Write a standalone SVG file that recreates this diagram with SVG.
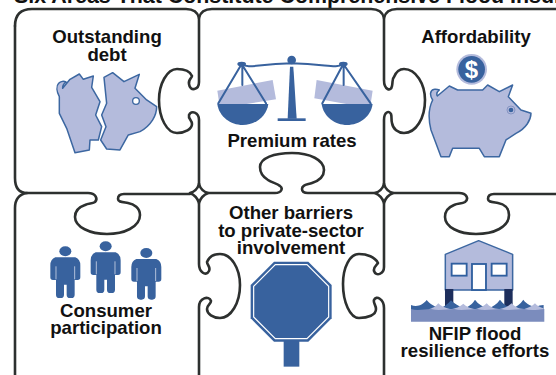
<svg xmlns="http://www.w3.org/2000/svg" width="556" height="375" viewBox="0 0 556 375">
<style>
text{font-family:"Liberation Sans",Arial,sans-serif;font-weight:bold;font-size:18.6px;fill:#111;text-anchor:middle}
.edge{fill:none;stroke:#2d302f;stroke-width:2.6;stroke-linecap:round;stroke-linejoin:round}
.lt{fill:#b4bbdc}
.ol{fill:#b4bbdc;stroke:#3c67a1;stroke-width:4.5;stroke-linejoin:round}
.bl{fill:#38629e}
.ln{fill:none;stroke:#38629e;stroke-width:6;stroke-linecap:round}
.wn{fill:#fff;stroke:#2f5f9f;stroke-width:5.5}
</style>
<defs>
<g id="person">
<ellipse cx="0" cy="0" rx="18" ry="15" class="bl"/>
<path class="bl" d="M-30,18 H30 Q45,24 45,42 V78 Q45,86 37,86 H28 V130 Q28,140 18,140 H14 Q4,140 4,130 V100 H-4 V130 Q-4,140 -14,140 H-18 Q-28,140 -28,130 V86 H-37 Q-45,86 -45,78 V42 Q-45,24 -30,18 Z"/>
<path d="M-28,45 V84 M28,45 V84" stroke="#c9d2e6" stroke-width="2.5" fill="none"/>
</g>
</defs>
<rect width="556" height="375" fill="#fff"/>
<text id="title" x="14" y="3" style="text-anchor:start;font-size:21.4px">Six Areas That Constitute Comprehensive Flood Insurance</text>
<g id="connectors">
<path class="edge" d="M15,26 Q15,9 32,9 H186 Q197,9 199,18 V82 C199,90 190,92 189,84 C188,79 192,78 192,76 C190,71 184,69 177,69 C167,69 159,84 159,100 C159,118 167,133 177,133 C185,133 192,129 192,124 C192,120 188,119 189,115 C191,110 199,112 199,120 V176 Q199,184 199,184"/>
<path class="edge" d="M199,18 Q201,9 212,9 H371 Q382,9 384,18 V80 C384,90 391,92 392,86 C393,81 392,79 394,77 C396,72 399,69 404,69 C416,69 425,84 425,100 C425,118 416,133 404,133 C398,133 393,129 392,123 C391,119 392,117 391,114 C389,110 384,112 384,120 V184"/>
<path class="edge" d="M384,18 Q386,9 397,9 H556"/>
<path class="edge" d="M15,26 V178 Q15,193 27,193 H88 C96,193 98,199 95,202 C92,204 89,203 85,205 C79,207 75,211 75,217 C75,227 90,234 107,234 C124,234 140,227 140,215 C140,208 134,204 128,203 C122,202 118,202 118,199 C118,196 120,194 124,194 H190"/>
<path class="edge" d="M27,193 Q15,195 15,208 V375"/>
<path class="edge" d="M199,184 Q197,191 190,193 Q197,196 199,203 V264 C199,272 206,277 209,271 C211,267 207,265 207,262 C209,257 214,254 220,254 C231,254 240,268 240,285 C240,303 231,318 220,318 C213,318 207,314 207,309 C207,305 211,304 211,301 C209,295 199,298 199,307 V375"/>
<path class="edge" d="M199,184 Q201,191 208,193 Q201,196 199,203"/>
<path class="edge" d="M208,193 H275 C282,193 283,188 280,186 C277,183 272,183 268,180 C263,177 260,172 260,167 C260,158 274,153 292,153 C310,153 324,160 324,170 C324,177 318,181 312,183 C306,185 302,185 302,189 C302,192 304,193 308,193 H375"/>
<path class="edge" d="M384,184 Q382,191 375,193 Q382,196 384,203 V267 C384,274 376,277 374,271 C373,267 377,265 378,263 C375,257 367,254 359,254 C350,254 343,267 343,284 C343,302 350,318 359,318 C368,318 376,315 376,309 C376,305 373,303 374,300 C376,295 384,299 384,308 V375"/>
<path class="edge" d="M384,184 Q386,191 393,193 Q386,196 384,203"/>
<path class="edge" d="M393,193 H459 C467,193 469,199 465,202 C462,204 458,203 454,205 C449,207 445,211 445,217 C445,227 459,234 476,234 C494,234 509,227 509,215 C509,208 504,204 498,203 C492,202 488,202 488,199 C488,196 490,194 494,194 H556"/>
</g>
<g id="outstanding-debt">
<text x="107" y="43">Outstanding</text>
<text x="107" y="60.500">debt</text>
<g transform="scale(.3333)">
<path class="ol" d="M178,290 C170,275 168,258 176,250 C182,243 192,243 198,246 C190,252 187,258 188,265 L210,238 L238,222 L250,238 L280,228 L275,262 L300,305 L287,345 L305,380 L295,420 L270,420 L268,450 L225,458 L200,385 L178,340 Z"/>
<path class="ol" d="M312,232 L338,218 L372,245 L418,223 L405,265 L440,300 L470,320 C470,345 455,375 420,395 L385,405 L360,450 L320,447 L302,420 L318,380 L305,345 L320,310 Z"/>
<circle cx="408" cy="303" r="10" fill="#fff" stroke="#3c67a1" stroke-width="4"/>
</g>
</g>
<g id="premium-rates">
<text x="292" y="147">Premium rates</text>
<g transform="translate(200,40) scale(.3333)">
<path class="lt" d="M52,152 L218,120 L228,178 L60,205 Z"/>
<path class="lt" d="M350,120 L518,152 L510,205 L343,175 Z"/>
<path class="bl" d="M52,192 H205 C200,230 165,255 128,255 C92,255 57,230 52,192 Z"/>
<path class="bl" d="M365,192 H518 C513,230 478,255 441,255 C405,255 370,230 365,192 Z"/>
<path class="ln" d="M125,72 L55,190 M125,72 L198,190 M127,72 V135 M430,72 L367,190 M430,72 L512,190 M431,72 V135"/>
<path class="ln" d="M125,72 C150,88 165,72 275,70 C385,72 405,88 430,72"/>
<ellipse cx="125" cy="72" rx="13" ry="7" class="bl"/>
<ellipse cx="430" cy="72" rx="13" ry="7" class="bl"/>
<circle cx="275" cy="60" r="13" class="bl"/>
<path class="bl" d="M270,80 H280 L290,236 H263 Z"/>
<rect x="233" y="235" width="84" height="8" class="bl"/>
</g>
</g>
<g id="affordability">
<text x="476" y="43">Affordability</text>
<g transform="translate(276,0) scale(.3333)">
<path class="ol" d="M470,300 C460,285 462,270 475,268 C480,267 485,268 490,270 C483,275 481,282 484,288 L520,258 L545,270 L620,270 L635,255 L670,275 L710,255 L697,290 L735,330 L765,340 C765,360 750,385 720,400 L690,420 L670,470 L625,470 L610,445 L530,445 L520,470 L495,470 L465,390 C455,350 460,320 470,300 Z"/>
<circle cx="705" cy="330" r="12" fill="none" stroke="#7b8cbd" stroke-width="2.500"/>
<circle cx="705" cy="330" r="7" class="bl"/>
<circle cx="587" cy="208" r="46" class="lt"/>
<circle cx="587" cy="208" r="40" class="bl"/>
</g>
<text x="471.500" y="77.500" style="fill:#fff;font-size:24px">$</text>
</g>
<g id="consumer-participation">
<text x="106" y="317">Consumer</text>
<text x="106" y="334">participation</text>
<g transform="translate(0,185) scale(.3333)">
<use href="#person" x="196" y="199"/>
<use href="#person" x="317" y="184"/>
<use href="#person" x="439" y="204"/>
</g>
</g>
<g id="other-barriers">
<text x="291" y="219">Other barriers</text>
<text x="291" y="237">to private-sector</text>
<text x="291" y="254">involvement</text>
<g transform="translate(200,160) scale(.3333)">
<rect x="251" y="540" width="47" height="80" class="bl"/>
<path class="bl" d="M222,305 H325 L395,375 V475 L325,545 H222 L152,475 V375 Z"/>
<path d="M226,314 H321 L386,379 V471 L321,536 H226 L161,471 V379 Z" fill="none" stroke="#fff" stroke-width="3.500"/>
</g>
</g>
<g id="nfip-flood">
<text x="475" y="340">NFIP flood</text>
<text x="475" y="357">resilience efforts</text>
<g transform="translate(276,185) scale(.3333)">
<path class="ol" d="M508,208 L608,167 L710,208 V315 H508 Z"/>
<rect x="527" y="236" width="45" height="36" class="wn"/>
<rect x="647" y="236" width="45" height="36" class="wn"/>
<rect x="588" y="237" width="42" height="78" class="wn"/>
<rect x="507" y="312" width="25" height="54" fill="#1d2e5c"/>
<rect x="685" y="312" width="25" height="54" fill="#1d2e5c"/>
<path class="bl" d="M405,360 C425,368 442,358 452,345 C462,358 480,366 490,370 C505,366 515,358 525,346 C537,358 555,366 562,370 C578,366 588,358 597,344 C607,358 622,366 635,370 C650,366 662,358 672,344 C682,358 695,366 707,370 C722,366 732,358 742,344 C752,358 768,364 780,366 C786,362 795,360 803,360 V378 H405 Z"/>
<path class="lt" d="M460,372 C475,368 481,362 487,355 C495,364 507,368 522,372 C540,372 552,364 562,356 C570,364 585,372 600,372 C615,368 625,362 632,355 C640,364 652,372 670,372 C688,368 700,362 707,355 C715,364 727,372 745,372 C760,368 770,362 777,355 C785,364 793,368 803,370 V376 H460 Z"/>
<path d="M405,372 C425,378 445,372 465,372 C490,378 510,372 535,372 C555,378 580,372 605,372 C625,378 650,372 675,372 C695,378 720,372 745,372 C765,378 785,374 805,372 V410 H405 Z" fill="#7b8cbd"/>
</g>
</g>
</svg>
